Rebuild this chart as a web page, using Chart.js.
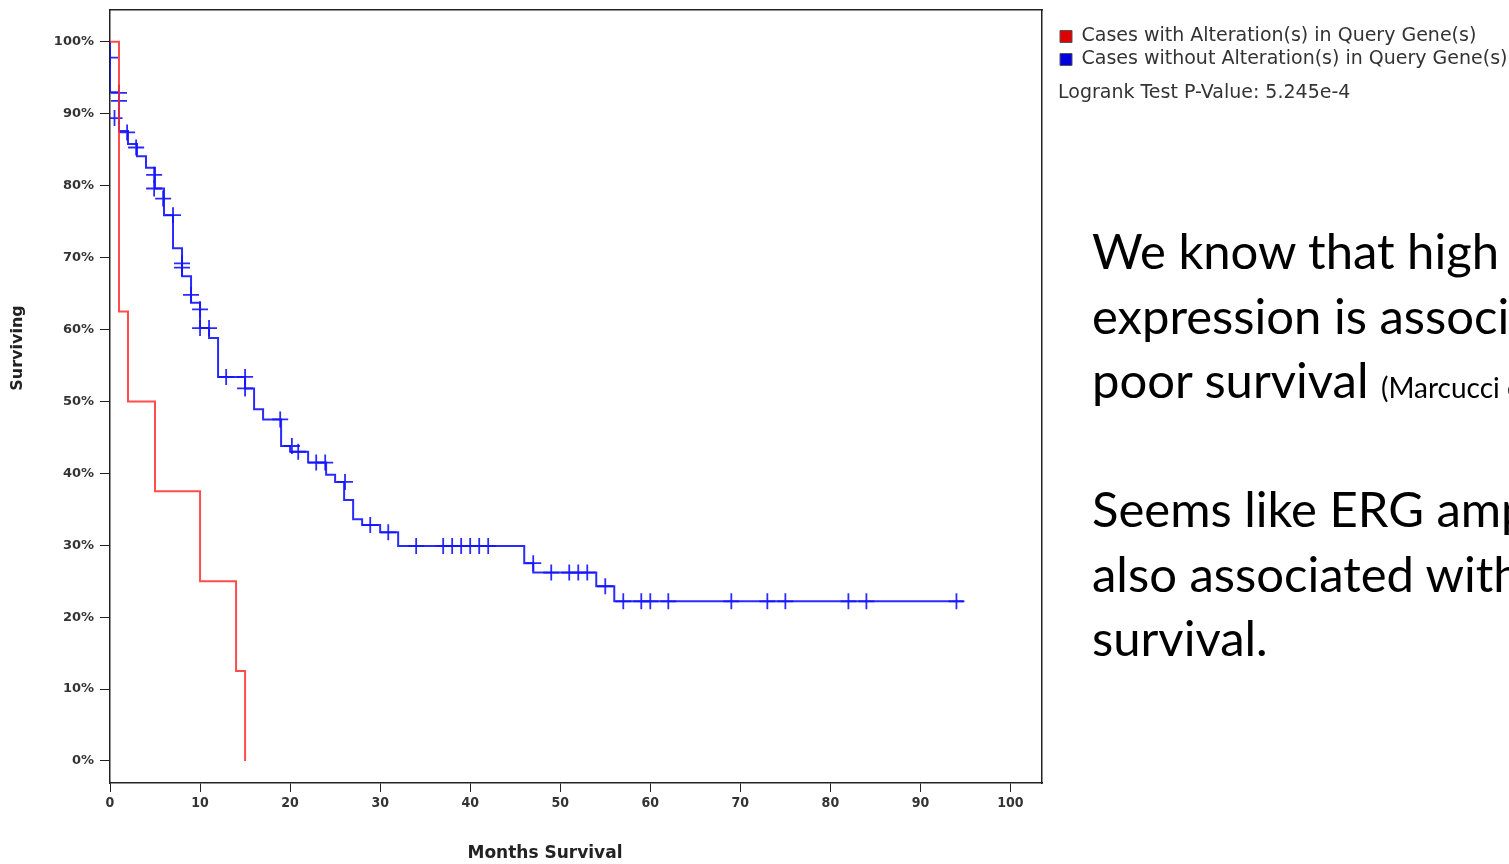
<!DOCTYPE html>
<html>
<head>
<meta charset="utf-8">
<title>Survival</title>
<script src="https://cdn.jsdelivr.net/npm/chart.js@4.4.1/dist/chart.umd.min.js"></script>
<style>
  html, body { margin: 0; padding: 0; background: #fff; overflow: hidden; }
  #wrap { position: relative; width: 1509px; height: 864px; }
  .para {
    position: absolute; left: 1092px; width: 417px; overflow: hidden;
    font-family: Lato, "Open Sans", sans-serif; font-size: 49px; line-height: 64.5px;
    color: #000; white-space: nowrap;
  }
  .para small { font-size: 28px; }
</style>
</head>
<body>
<div id="wrap">
  <canvas id="myChart" width="1509" height="864"></canvas>
  <div class="para" style="top:218px">We know that high ERG<br>expression is associated with<br>poor survival <small>(Marcucci et al.)</small></div>
  <div class="para" style="top:476px">Seems like ERG amplification is<br>also associated with poor<br>survival.</div>
</div>
<script>
// values (months, % surviving)
const redTimes = [0, 1, 2, 5, 10, 14, 15];
const redSurv  = [100, 62.5, 50, 37.5, 25, 12.5, 0];

const blueTimes = [0, 0, 1, 2, 3, 4, 5, 6, 7, 8, 9, 10, 11, 12, 15, 16, 17, 19, 20, 22, 24, 25, 26, 27, 28, 30, 32, 46, 47, 54, 56, 94.8];
const blueSurv  = [100, 93, 87.6, 85.8, 84.1, 82.5, 79.6, 75.9, 71.3, 67.4, 63.7, 60.2, 58.8, 53.4, 51.8, 48.9, 47.5, 43.8, 43.0, 41.5, 39.8, 38.8, 36.3, 33.6, 32.8, 31.8, 29.9, 27.5, 26.2, 24.3, 22.2, 22.2];

// censored cases (+ marks)
const censorTimes = [0, 1, 1, 0.5, 1.9, 2.9, 4.9, 4.9, 5.9, 7, 8, 8, 9, 10, 10, 11, 12.9, 15, 15, 18.9, 20.2, 20.9, 22.9, 23.9, 26.1, 28.9, 30.9, 34, 37, 38, 39, 40, 41, 42, 47, 49, 51, 52, 53, 55, 57, 59, 60, 62, 69, 73, 75, 82, 84, 94];
const censorSurv  = [97.8, 92.9, 91.8, 89.4, 87.4, 85.3, 81.5, 79.6, 78.2, 75.9, 69.2, 68.6, 64.8, 62.8, 60.2, 60.2, 53.4, 53.4, 51.8, 47.5, 43.8, 43.0, 41.5, 41.5, 38.8, 32.8, 31.8, 29.9, 29.9, 29.9, 29.9, 29.9, 29.9, 29.9, 27.5, 26.2, 26.2, 26.2, 26.2, 24.3, 22.2, 22.2, 22.2, 22.2, 22.2, 22.2, 22.2, 22.2, 22.2, 22.2];

const xTicks = [0, 10, 20, 30, 40, 50, 60, 70, 80, 90, 100];
const yTicks = [0, 10, 20, 30, 40, 50, 60, 70, 80, 90, 100];

const seriesNames = ['Cases with Alteration(s) in Query Gene(s)', 'Cases without Alteration(s) in Query Gene(s)'];
const pValueText = 'Logrank Test P-Value: 5.245e-4';

const toPts = (xs, ys) => xs.map((x, i) => ({ x: x, y: ys[i] }));

const PLOT_RIGHT = 1042;

const noPad = s => { s.paddingTop = 0; s.paddingBottom = 0; s.paddingLeft = 0; s.paddingRight = 0; };

const extras = {
  id: 'extras',
  afterLayout(chart) {
    // move the legend next to the plot box and give it room for the long labels
    const lg = chart.legend;
    lg.left = 1056; lg.width = chart.width - lg.left; lg.right = chart.width;
    lg.top = 23; lg.bottom = lg.top + lg.height;
  },
  afterDraw(chart) {
    const ctx = chart.ctx;
    const lg = chart.legend;
    ctx.save();
    ctx.fillStyle = '#333';
    ctx.textBaseline = 'middle';
    ctx.textAlign = 'left';
    ctx.font = '19px "DejaVu Sans"';
    ctx.fillText(pValueText, lg.left + 2, 93);

    ctx.fillStyle = '#222';
    ctx.font = 'bold 17px "DejaVu Sans"';
    ctx.textAlign = 'center';
    ctx.fillText('Months Survival', 545, 854);

    ctx.translate(18, 348);
    ctx.rotate(-Math.PI / 2);
    ctx.font = 'bold 16px "DejaVu Sans"';
    ctx.fillText('Surviving', 0, 0);
    ctx.restore();
  }
};

const ctx = document.getElementById('myChart');
new Chart(ctx, {
  type: 'scatter',
  data: {
    datasets: [{
      label: seriesNames[0],
      data: toPts(redTimes, redSurv),
      xAxisID: 'x', yAxisID: 'y',
      showLine: true,
      stepped: true,
      borderColor: 'rgba(255,45,45,0.85)',
      backgroundColor: '#e00000',
      borderWidth: 2,
      pointRadius: 0
    }, {
      label: seriesNames[1],
      data: toPts(blueTimes, blueSurv),
      xAxisID: 'x', yAxisID: 'y',
      showLine: true,
      stepped: true,
      borderColor: 'rgba(20,20,255,0.9)',
      backgroundColor: '#0000e0',
      borderWidth: 2,
      pointRadius: 0
    }, {
      label: 'censored',
      data: toPts(censorTimes, censorSurv),
      xAxisID: 'x', yAxisID: 'y',
      showLine: false,
      pointStyle: 'cross',
      pointRadius: 8,
      pointBorderWidth: 1.8,
      borderColor: 'rgba(20,20,255,0.9)',
      backgroundColor: 'rgba(20,20,255,0.9)'
    }]
  },
  options: {
    responsive: false,
    animation: false,
    layout: { padding: { top: 7, left: 0, right: 0, bottom: 0 } },
    plugins: {
      tooltip: { enabled: false },
      legend: {
        position: 'right',
        align: 'start',
        labels: {
          font: { family: '"DejaVu Sans"', size: 19 },
          color: '#333',
          boxWidth: 12,
          boxHeight: 12,
          padding: 4,
          filter: item => item.datasetIndex < 2,
          generateLabels: chart => {
            const items = Chart.defaults.plugins.legend.labels.generateLabels(chart);
            items.forEach(it => { it.strokeStyle = '#555'; it.lineWidth = 1; });
            return items;
          }
        }
      }
    },
    scales: {
      x: {
        type: 'linear',
        position: 'bottom',
        min: 0,
        max: 103.5,
        afterBuildTicks: s => { s.ticks = xTicks.map(v => ({ value: v })); },
        afterFit: s => { s.height = 81; noPad(s); },
        grid: { display: true, drawOnChartArea: false, drawTicks: true, tickLength: 9, color: '#222' },
        border: { display: true, color: '#222', width: 1.5 },
        ticks: {
          color: '#333',
          padding: 3,
          maxRotation: 0,
          font: { family: '"Liberation Sans Narrow", "DejaVu Sans Condensed"', size: 14, weight: 'bold' }
        }
      },
      y: {
        type: 'linear',
        position: 'left',
        min: -3.06,
        max: 104.45,
        afterBuildTicks: s => { s.ticks = yTicks.map(v => ({ value: v })); },
        afterFit: s => { s.width = 110; noPad(s); },
        grid: { display: true, drawOnChartArea: false, drawTicks: true, tickLength: 10, color: '#222' },
        border: { display: true, color: '#222', width: 1.5 },
        ticks: {
          color: '#333',
          padding: 6,
          font: { family: '"DejaVu Sans"', size: 13, weight: 'bold' },
          callback: v => v + '%'
        }
      },
      x2: {
        type: 'linear',
        position: 'top',
        afterFit: s => { s.height = 0; noPad(s); },
        grid: { display: false },
        border: { display: true, color: '#222', width: 1.5 },
        ticks: { display: false }
      },
      y2: {
        type: 'linear',
        position: 'right',
        // fills the gap so the plot box ends at PLOT_RIGHT
        afterFit: s => {
          const lgW = s.chart.legend ? s.chart.legend.width : 0;
          s.width = Math.max(0, s.chart.width - lgW - PLOT_RIGHT);
          noPad(s);
        },
        grid: { display: false },
        border: { display: true, color: '#222', width: 1.5 },
        ticks: { display: false }
      }
    }
  },
  plugins: [extras]
});
</script>
</body>
</html>
